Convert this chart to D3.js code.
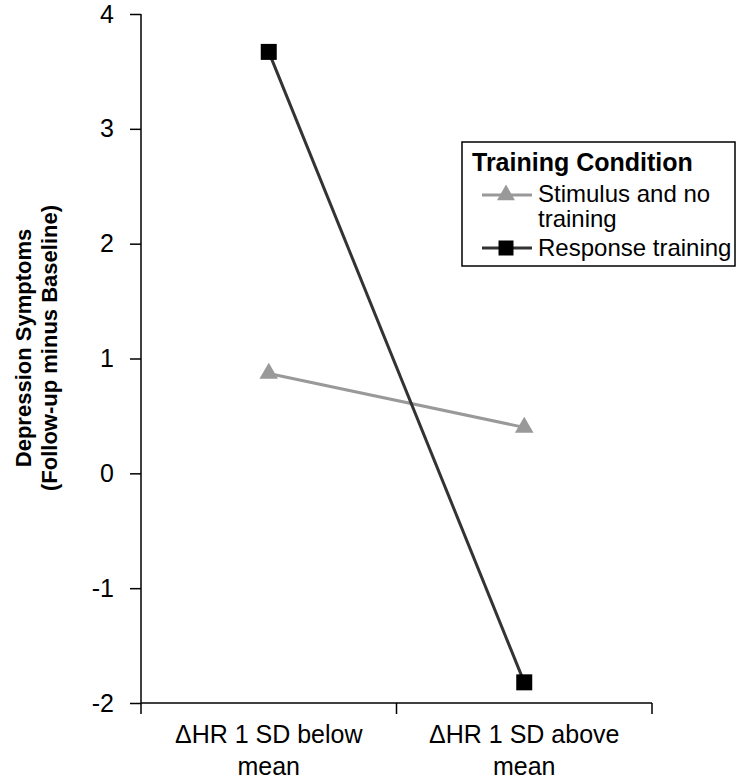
<!DOCTYPE html>
<html><head><meta charset="utf-8">
<script src="https://cdn.jsdelivr.net/npm/d3@7"></script>
<style>body{margin:0;background:#fff}svg{display:block;font-family:"Liberation Sans",Arial,sans-serif}</style>
</head><body>
<script>
const categories = ["\u0394HR 1 SD below|mean", "\u0394HR 1 SD above|mean"];
const stimulusValues = [0.87, 0.40];
const responseValues = [3.67, -1.82];
const yTicks = [-2, -1, 0, 1, 2, 3, 4];
const seriesNames = ["Stimulus and no|training", "Response training"];
const legendTitle = "Training Condition";

const W = 740, H = 779;
const FONT = "Liberation Sans, Arial, sans-serif";
const svg = d3.select("body").append("svg").attr("width", W).attr("height", H);
const x = d3.scaleBand().domain(categories).range([141, 652]);
const y = d3.scaleLinear().domain([-2, 4]).range([703, 14]);

// y axis
const ya = svg.append("g").attr("transform", "translate(141,0)")
  .call(d3.axisLeft(y).tickValues(yTicks).tickSize(11).tickPadding(16).tickFormat(d => String(d)));
ya.selectAll("text").attr("font-size", 25).attr("fill", "#000").attr("font-family", FONT);
ya.selectAll("line,path").attr("stroke", "#000").attr("stroke-width", 1.5);
ya.select(".domain").attr("d", `M0,${y(4)}V${y(-2)}`);

// x axis
const xa = svg.append("g").attr("transform", `translate(0,${y(-2)})`);
xa.append("line").attr("x1", 141).attr("x2", 652).attr("stroke", "#000").attr("stroke-width", 1.5);
[141, 141 + x.step(), 141 + 2 * x.step()].forEach(p =>
  xa.append("line").attr("x1", p).attr("x2", p).attr("y1", 0).attr("y2", 11).attr("stroke", "#000").attr("stroke-width", 1.5));
categories.forEach(c => {
  const t = xa.append("text").attr("x", x(c) + x.bandwidth() / 2).attr("y", 40)
    .attr("text-anchor", "middle").attr("font-size", 25).attr("fill", "#000").attr("font-family", FONT);
  c.split("|").forEach((s, i) => t.append("tspan").attr("x", x(c) + x.bandwidth() / 2).attr("dy", i ? 32 : 0).text(s));
});

// y title
const yt = svg.append("text").attr("transform", "translate(31,348) rotate(-90)")
  .attr("text-anchor", "middle").attr("font-size", 22).attr("font-weight", "bold").attr("fill", "#000").attr("font-family", FONT);
yt.append("tspan").attr("x", 0).attr("dy", 0).text("Depression Symptoms");
yt.append("tspan").attr("x", 0).attr("dy", 26).text("(Follow-up minus Baseline)");

const cx = c => x(c) + x.bandwidth() / 2;
const line = d3.line().x((d, i) => cx(categories[i])).y(d => y(d));
const tri = d3.symbol().type(d3.symbolTriangle).size(150);
const sq = d3.symbol().type(d3.symbolSquare).size(256);

svg.append("path").datum(stimulusValues).attr("d", line).attr("fill", "none").attr("stroke", "#999").attr("stroke-width", 3);
svg.append("path").datum(responseValues).attr("d", line).attr("fill", "none").attr("stroke", "#333").attr("stroke-width", 3);
svg.selectAll(".tri").data(stimulusValues).enter().append("path")
  .attr("d", tri).attr("fill", "#999")
  .attr("transform", (d, i) => `translate(${cx(categories[i])},${y(d)})`);
svg.selectAll(".sq").data(responseValues).enter().append("path")
  .attr("d", sq).attr("fill", "#000")
  .attr("transform", (d, i) => `translate(${cx(categories[i])},${y(d)})`);

// legend
const lg = svg.append("g").attr("font-family", FONT);
lg.append("rect").attr("x", 462).attr("y", 142).attr("width", 273).attr("height", 124)
  .attr("fill", "#fff").attr("stroke", "#000").attr("stroke-width", 1.5);
lg.append("text").attr("x", 472).attr("y", 171).attr("font-size", 25).attr("font-weight", "bold").text(legendTitle);
const items = [{n: seriesNames[0], y: 202, ly: 195, c: "#999"}, {n: seriesNames[1], y: 256, ly: 248, c: "#333"}];
items.forEach((it, k) => {
  lg.append("line").attr("x1", 482).attr("x2", 532).attr("y1", it.ly).attr("y2", it.ly).attr("stroke", it.c).attr("stroke-width", 3);
  lg.append("path").attr("d", k ? d3.symbol().type(d3.symbolSquare).size(225)() : d3.symbol().type(d3.symbolTriangle).size(140)())
    .attr("fill", k ? "#000" : "#999").attr("transform", `translate(506,${it.ly})`);
  const t = lg.append("text").attr("x", 538).attr("y", it.y).attr("font-size", 24).attr("fill", "#000");
  it.n.split("|").forEach((s, i) => t.append("tspan").attr("x", 538).attr("dy", i ? 25 : 0).text(s));
});
</script>
</body></html>
